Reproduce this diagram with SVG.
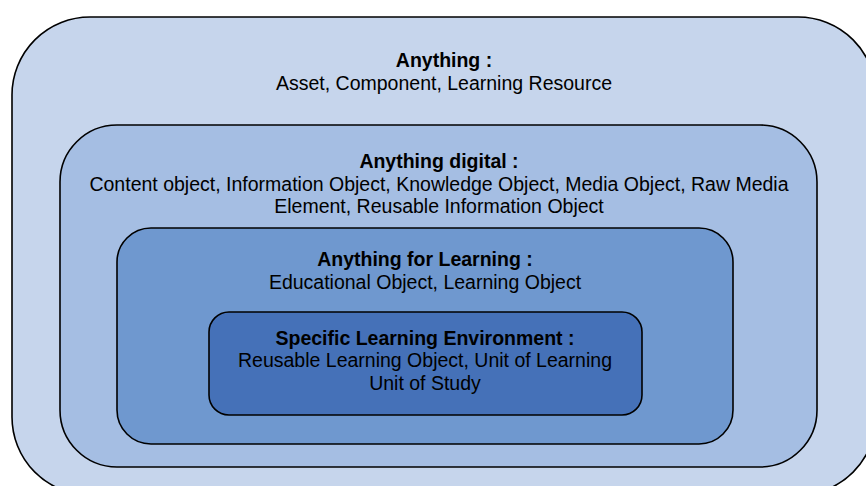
<svg xmlns="http://www.w3.org/2000/svg" width="866" height="486" viewBox="0 0 866 486">
<style>
.box{stroke:#000;stroke-width:1.6}
text{font-family:"Liberation Sans",Arial,sans-serif;font-size:19.5px;fill:#000;text-anchor:middle}
.b{font-weight:bold}
</style>
<rect width="866" height="486" fill="#fff"/>
<g id="anything">
<rect class="box" x="12" y="17" width="864" height="478" rx="78" ry="78" fill="#c6d5ec"/>
<text class="b" x="444" y="67">Anything :</text>
<text x="444" y="90">Asset, Component, Learning Resource</text>
</g>
<g id="digital">
<rect class="box" x="60" y="125" width="757" height="342" rx="57" ry="57" fill="#a5bee3"/>
<text class="b" x="439" y="168">Anything digital :</text>
<text x="439" y="191">Content object, Information Object, Knowledge Object, Media Object, Raw Media</text>
<text x="439" y="213">Element, Reusable Information Object</text>
</g>
<g id="learning">
<rect class="box" x="117" y="228" width="616" height="216" rx="34" ry="34" fill="#6f98cf"/>
<text class="b" x="425" y="266">Anything for Learning :</text>
<text x="425" y="289">Educational Object, Learning Object</text>
</g>
<g id="specific">
<rect class="box" x="209" y="312" width="433" height="103" rx="20" ry="20" fill="#4571b8"/>
<text class="b" x="425" y="345">Specific Learning Environment :</text>
<text x="425" y="367">Reusable Learning Object, Unit of Learning</text>
<text x="425" y="390">Unit of Study</text>
</g>
<g id="connectors"/>
</svg>
